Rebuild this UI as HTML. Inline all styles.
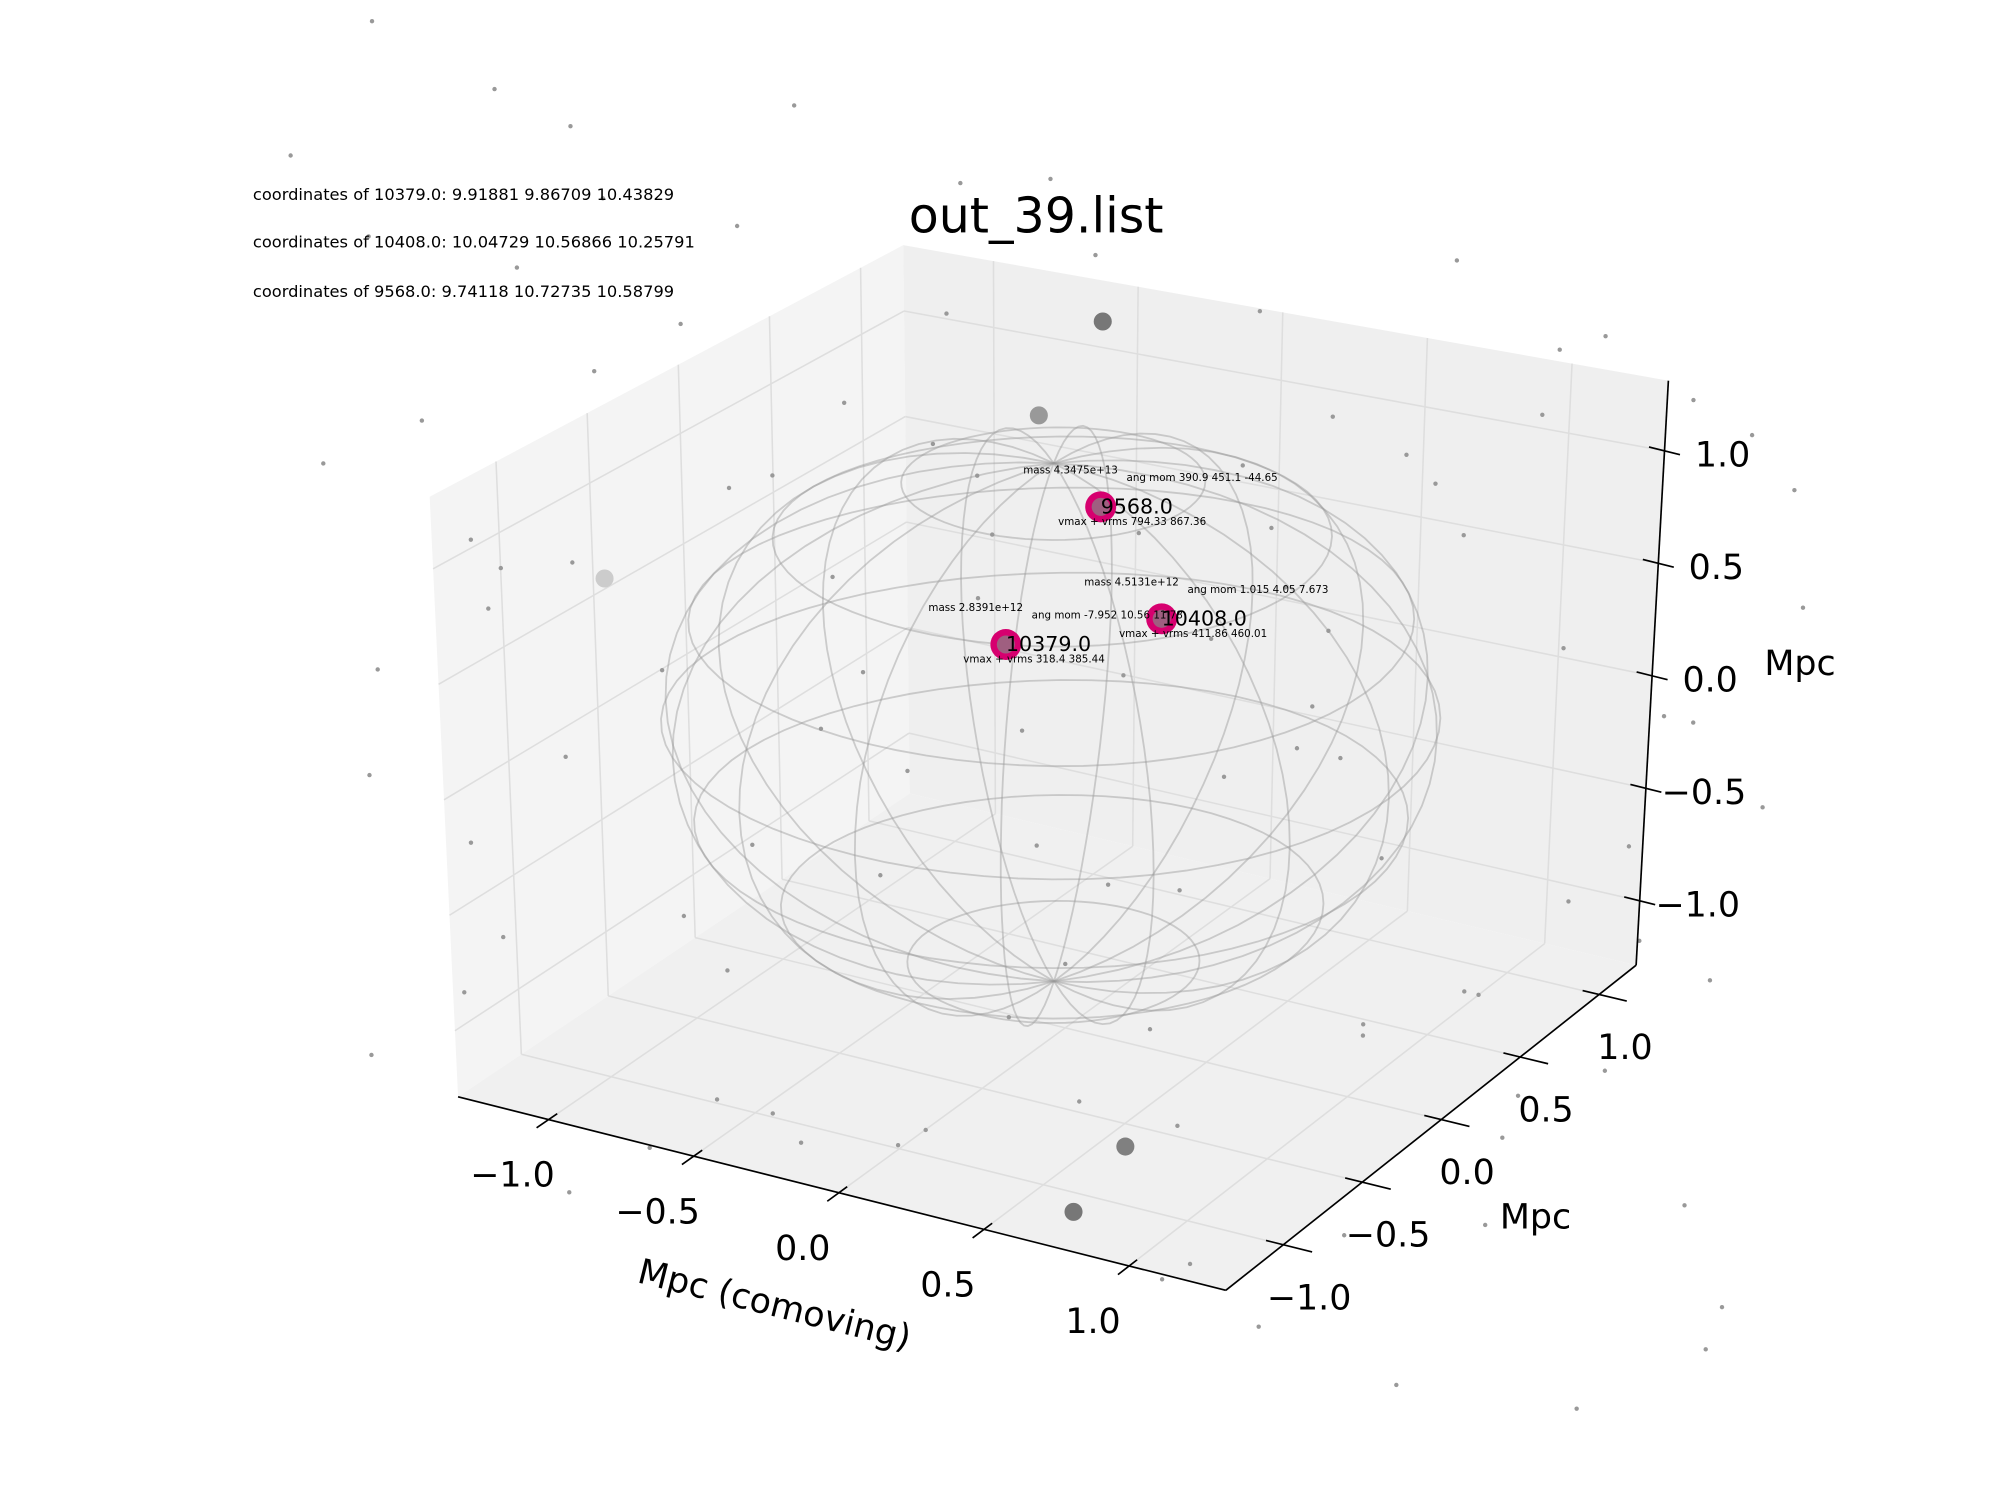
<!DOCTYPE html>
<html><head><meta charset="utf-8"><style>
html,body{margin:0;padding:0;background:#fff;}
svg{display:block;font-family:"DejaVu Sans","Liberation Sans",sans-serif;}
</style></head><body>
<svg id="chart" width="2000" height="1500" viewBox="0 0 1550 1162.5" xmlns="http://www.w3.org/2000/svg">
<g id="panes"></g>
<g id="grid"></g>
<g id="bgdots"></g>
<g id="sphere"></g>
<g id="halos"></g>
<g id="axes"></g>
<text x="803" y="180" font-size="38" text-anchor="middle">out_39.list</text>
<text x="196" y="155" font-size="12.6">coordinates of 10379.0: 9.91881 9.86709 10.43829</text>
<text x="196" y="192" font-size="12.6">coordinates of 10408.0: 10.04729 10.56866 10.25791</text>
<text x="196" y="230" font-size="12.6">coordinates of 9568.0: 9.74118 10.72735 10.58799</text>
</svg>
<script>
// axis ranges
const xRange=[-1.312,1.333], yRange=[-1.364,1.234], zRange=[-1.286,1.312];
const xTicks=[-1,-0.5,0,0.5,1], yTicks=[-1,-0.5,0,0.5,1], zTicks=[-1,-0.5,0,0.5,1];
const tickLabels=["\u22121.0","\u22120.5","0.0","0.5","1.0"];
// halos (data coords)
const haloNames=["9568.0","10408.0","10379.0"];
const haloX=[0.120,0.330,-0.205];
const haloY=[0,0,0];
const haloZ=[1.08,0.64,0.37];
const haloMass=["mass 4.3475e+13","mass 4.5131e+12","mass 2.8391e+12"];
const haloAng=["ang mom 390.9 451.1 -44.65","ang mom 1.015 4.05 7.673","ang mom -7.952 10.56 11.78"];
const haloV=["vmax + vrms 794.33 867.36","vmax + vrms 411.86 460.01","vmax + vrms 318.4 385.44"];
// neighbouring gray halos
const grayX=[0.125,-0.09,-1.59,0.215,0.03];
const grayZ=[1.91,1.43,0.26,-1.75,-2.10];
const grayShade=["#777","#999","#ccc","#808080","#777"];
// background particles (x,z at y=0)
const bgX=[-2.6,-2.4,-2.2,-2.0,-1.9,-1.7,-1.5,-1.3,-1.1,-0.9,-0.7,-0.5,-0.3,-0.1,0.1,0.3,0.5,0.7,0.9,1.1,1.3,1.5,1.7,1.9,2.1,2.3,2.5,-2.5,-2.1,-1.6,-1.2,-0.8,-0.4,0.0,0.4,0.8,1.2,1.6,2.0,2.4,-2.3,-1.8,-1.0,-0.2,0.6,1.4,2.2,-1.4,0.2,1.0,1.8,-0.6,0.9,-2.0,2.3,-1.1,0.4,1.6,-0.3,0.7,
 -2.55,-2.35,-2.15,-1.95,-1.75,-1.55,-1.35,-1.15,-0.95,-0.75,-0.55,-0.35,-0.15,0.05,0.25,0.45,0.65,0.85,1.05,1.25,1.45,1.65,1.85,2.05,2.25,2.45,-2.45,-2.05,-1.65,-1.25,-0.85,-0.45,-0.05,0.35,0.75,1.15,1.55,1.95,2.35,-0.65,0.15,0.95,1.75,-1.85,-1.05,1.35,2.15,0.55,-0.25,1.05];
const bgZ=[1.9,-0.4,0.8,-1.5,2.4,0.3,-2.3,1.5,-0.8,2.6,0.1,-1.9,1.1,-0.5,2.2,-1.2,0.6,-2.4,1.7,-0.2,2.5,-1.7,0.9,-0.9,2.1,-2.0,1.3,-2.2,-1.1,1.2,-1.4,0.5,1.8,-1.0,-1.6,0.2,-2.5,1.9,-0.3,0.4,2.6,-2.6,0.9,-1.3,1.4,-0.7,-1.4,-0.1,0.35,-1.9,2.3,-2.0,0.75,0.0,2.0,2.0,-0.55,-1.1,0.55,1.15,
 0.5,1.6,-1.8,0.2,-0.6,2.0,-1.2,0.8,-2.1,1.3,-0.3,2.4,0.0,-1.6,1.0,-2.2,2.1,0.4,-1.0,1.5,-0.7,2.2,-2.4,0.7,-0.4,1.8,-0.9,0.3,2.3,-2.0,-0.2,1.2,2.5,-2.3,0.9,1.6,-1.3,0.1,-1.8,-0.8,-0.6,0.2,-0.2,1.6,-2.0,1.3,0.7,0.0,0.85,-0.95];

const P={A:[355,850],G:[950,1000],D:[705,615],E:[1268,748],B:[333,385],C:[700,190],F:[1293,295],H:[951,541]};
function lerp(a,b,t){return [a[0]+(b[0]-a[0])*t,a[1]+(b[1]-a[1])*t];}
function proj(x,y,z){
  const u=(x-xRange[0])/(xRange[1]-xRange[0]), v=(y-yRange[0])/(yRange[1]-yRange[0]), w=(z-zRange[0])/(zRange[1]-zRange[0]);
  const b0=lerp(P.A,P.G,u), b1=lerp(P.D,P.E,u), t0=lerp(P.B,P.H,u), t1=lerp(P.C,P.F,u);
  const bot=lerp(b0,b1,v), top=lerp(t0,t1,v);
  return lerp(bot,top,w);
}
const NS="http://www.w3.org/2000/svg";
function mk(tag,parent,attrs){const e=document.createElementNS(NS,tag);for(const k in attrs)e.setAttribute(k,attrs[k]);parent.appendChild(e);return e;}
const gP=document.getElementById('panes'),gG=document.getElementById('grid'),gB=document.getElementById('bgdots'),gS=document.getElementById('sphere'),gH=document.getElementById('halos'),gA=document.getElementById('axes');
function poly(pts){return pts.map(p=>p[0].toFixed(1)+','+p[1].toFixed(1)).join(' ');}
let e;
e=mk('polygon',gP,{points:poly([P.A,P.D,P.C,P.B]),fill:'#f4f4f4'});

e=mk('polygon',gP,{points:poly([P.D,P.E,P.F,P.C]),fill:'#efefef'});

e=mk('polygon',gP,{points:poly([P.A,P.G,P.E,P.D]),fill:'#f0f0f0'});

function line(g,a,b,attrs){return mk('line',g,Object.assign({x1:a[0],y1:a[1],x2:b[0],y2:b[1]},attrs));}
const gs={stroke:'#dedede','stroke-width':1.2};
const X0=xRange[0],X1=xRange[1],Y0=yRange[0],Y1=yRange[1],Z0=zRange[0],Z1=zRange[1];
yTicks.forEach(t=>{e=line(gG,proj(X0,t,Z0),proj(X0,t,Z1),gs);
  e=line(gG,proj(X0,t,Z0),proj(X1,t,Z0),gs);});
xTicks.forEach(t=>{e=line(gG,proj(t,Y1,Z0),proj(t,Y1,Z1),gs);
  e=line(gG,proj(t,Y0,Z0),proj(t,Y1,Z0),gs);});
zTicks.forEach(t=>{e=line(gG,proj(X0,Y0,t),proj(X0,Y1,t),gs);
  e=line(gG,proj(X0,Y1,t),proj(X1,Y1,t),gs);});
bgX.forEach((x,i)=>{const p=proj(x,0,bgZ[i]);e=mk('circle',gB,{cx:p[0],cy:p[1],r:1.7,fill:'#999'});
  });
// sphere wireframe
const sc=[-0.04,0,0.07], sr=1.16;
function sp(th,ph){return proj(sc[0]+sr*Math.cos(th)*Math.cos(ph),sc[1]+sr*Math.cos(th)*Math.sin(ph),sc[2]+sr*Math.sin(th));}
const ss={fill:'none',stroke:'#999','stroke-opacity':0.45,'stroke-width':1.4};
for(let i=1;i<8;i++){const th=-Math.PI/2+i*Math.PI/8;let pts=[];for(let k=0;k<=72;k++)pts.push(sp(th,k*Math.PI/36));
  e=mk('polyline',gS,Object.assign({points:poly(pts)},ss));}
for(let j=0;j<8;j++){const ph=j*Math.PI/8;let pts=[];for(let k=0;k<=72;k++)pts.push(sp(-Math.PI/2+k*Math.PI/72*2,ph));
  e=mk('polyline',gS,Object.assign({points:poly(pts)},ss));}
grayX.forEach((x,i)=>{const p=proj(x,0,grayZ[i]);e=mk('circle',gH,{cx:p[0],cy:p[1],r:7,fill:grayShade[i]});
  });
haloNames.forEach((n,i)=>{const p=proj(haloX[i],haloY[i],haloZ[i]);
  e=mk('circle',gH,{cx:p[0],cy:p[1],r:12,fill:'#d6006f'});
  e=mk('circle',gH,{cx:p[0],cy:p[1],r:7,fill:'#888','fill-opacity':0.7});
  e=mk('text',gH,{x:p[0],y:p[1]+5,'font-size':16});e.textContent=n;
  e=mk('text',gH,{x:p[0]-60,y:p[1]-26,'font-size':8});e.textContent=haloMass[i];
  e=mk('text',gH,{x:p[0]+20,y:p[1]-20,'font-size':8});e.textContent=haloAng[i];
  e=mk('text',gH,{x:p[0]-33,y:p[1]+14,'font-size':8});e.textContent=haloV[i];
});
// axes
const as={stroke:'#000','stroke-width':1.3};
e=line(gA,P.A,P.G,as);
e=line(gA,P.G,P.E,as);
e=line(gA,P.E,P.F,as);
xTicks.forEach((t,i)=>{const a=proj(t,Y0,Z0),b=proj(t,Y0-0.07,Z0);const c=proj(t,Y0+0.05,Z0);
  e=line(gA,c,b,as);
  e=mk('text',gA,{x:a[0]-28,y:a[1]+52,'font-size':27,'text-anchor':'middle'});e.textContent=tickLabels[i];});
yTicks.forEach((t,i)=>{const a=proj(X1,t,Z0),b=proj(X1+0.1,t,Z0),c=proj(X1-0.06,t,Z0);
  e=line(gA,c,b,as);
  e=mk('text',gA,{x:a[0]+20,y:a[1]+50,'font-size':27,'text-anchor':'middle'});e.textContent=tickLabels[i];});
zTicks.forEach((t,i)=>{const a=proj(X1,Y1,t);
  e=line(gA,[a[0]-12,a[1]-3],[a[0]+12,a[1]+3],as);
  e=mk('text',gA,{x:a[0]+45,y:a[1]+12,'font-size':27,'text-anchor':'middle'});e.textContent=tickLabels[i];});
e=mk('text',gA,{x:600,y:1020,'font-size':27,'text-anchor':'middle',transform:'rotate(14 600 1012)'});e.textContent='Mpc (comoving)';
e=mk('text',gA,{x:1190,y:952,'font-size':27,'text-anchor':'middle'});e.textContent='Mpc';
e=mk('text',gA,{x:1395,y:523,'font-size':27,'text-anchor':'middle'});e.textContent='Mpc';
</script>
</body></html>
